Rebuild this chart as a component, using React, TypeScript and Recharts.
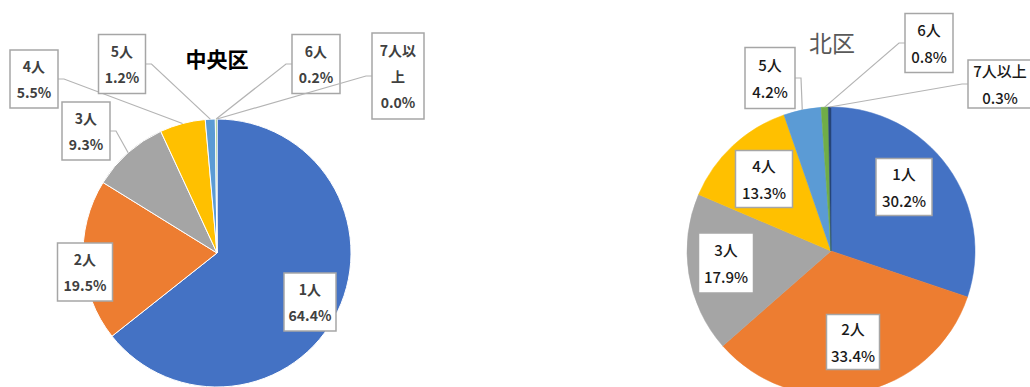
import { PieChart, Pie, Cell } from 'recharts';

// household size categories
const categories = ['1人', '2人', '3人', '4人', '5人', '6人', '7人以上'];
// share of households (%)
const chuoValues = [64.4, 19.5, 9.3, 5.5, 1.2, 0.2, 0.0];
const kitaValues = [30.2, 33.4, 17.9, 13.3, 4.2, 0.8, 0.3];

const sliceColors = ['#4472C4', '#ED7D31', '#A5A5A5', '#FFC000', '#5B9BD5', '#70AD47', '#264478'];

interface LabelBox {
  dx: number;
  dy: number;
  w: number;
  h: number;
  leader?: 'left' | 'right';
  wrapAt?: number;
}

// label box placement, relative to the pie centre
const chuoLabelLayout: LabelBox[] = [
  { dx: 93, dy: 49, w: 52, h: 58 },
  { dx: -132, dy: 19, w: 55, h: 58 },
  { dx: -131, dy: -122, w: 48, h: 58, leader: 'right' },
  { dx: -183, dy: -174, w: 48, h: 58, leader: 'right' },
  { dx: -95, dy: -189, w: 47, h: 59, leader: 'right' },
  { dx: 99, dy: -189, w: 48, h: 59, leader: 'left' },
  { dx: 181, dy: -177, w: 52, h: 86, leader: 'left', wrapAt: 3 },
];

const kitaLabelLayout: LabelBox[] = [
  { dx: 73, dy: -64, w: 56, h: 57 },
  { dx: 22, dy: 91, w: 53, h: 55 },
  { dx: -105, dy: 12, w: 55, h: 60 },
  { dx: -67, dy: -72, w: 57, h: 57 },
  { dx: -61, dy: -173, w: 50, h: 61, leader: 'right' },
  { dx: 98, dy: -208, w: 48, h: 59, leader: 'left' },
  { dx: 169, dy: -167, w: 64, h: 48, leader: 'left' },
];

const chuoData = categories.map((name, i) => ({ name, value: chuoValues[i] }));
const kitaData = categories.map((name, i) => ({ name, value: kitaValues[i] }));

const RAD = Math.PI / 180;
const FONT = '"Noto Sans CJK JP", "Noto Sans", sans-serif';

function makeLabel(layout: LabelBox[], bold: boolean, color: string, fontSize: number, gap: number) {
  return (props: any) => {
    const { cx, cy, midAngle, outerRadius, index, name, value } = props;
    const box = layout[index];
    if (!box) return null;
    const bx = cx + box.dx;
    const by = cy + box.dy;
    const nameLines = box.wrapAt ? [name.slice(0, box.wrapAt), name.slice(box.wrapAt)] : [name];
    const lines = [...nameLines, `${Number(value).toFixed(1)}%`];
    const top = by - ((lines.length - 1) * gap) / 2;

    let leader = null;
    if (box.leader) {
      const ex = cx + outerRadius * Math.cos(-midAngle * RAD);
      const ey = cy + outerRadius * Math.sin(-midAngle * RAD);
      const sx = box.leader === 'right' ? bx + box.w / 2 : bx - box.w / 2;
      const kx = box.leader === 'right' ? sx + 6 : sx - 6;
      leader = (
        <polyline
          points={`${sx},${by} ${kx},${by} ${ex},${ey}`}
          fill="none"
          stroke="#b4b4b4"
          strokeWidth={1.2}
        />
      );
    }

    return (
      <g key={`lbl-${index}`}>
        {leader}
        <rect
          x={bx - box.w / 2}
          y={by - box.h / 2}
          width={box.w}
          height={box.h}
          fill="#ffffff"
          stroke="#a6a6a6"
          strokeWidth={1.5}
        />
        {lines.map((t, i) => (
          <text
            key={i}
            x={bx}
            y={top + i * gap}
            textAnchor="middle"
            dominantBaseline="central"
            fontSize={fontSize}
            fontWeight={bold ? 700 : 500}
            fill={color}
            fontFamily={FONT}
          >
            {t}
          </text>
        ))}
      </g>
    );
  };
}

export default function App() {
  return (
    <div style={{ position: 'relative', width: 1030, height: 387, background: '#fff', overflow: 'hidden' }}>
      <style>{'body{margin:0;}'}</style>
      <PieChart width={1030} height={387} margin={{ top: 0, right: 0, bottom: 0, left: 0 }}>
        <Pie
          data={chuoData}
          dataKey="value"
          nameKey="name"
          cx={217}
          cy={253}
          outerRadius={134}
          startAngle={90}
          endAngle={-270}
          label={makeLabel(chuoLabelLayout, true, '#404040', 14, 26)}
          labelLine={false}
          isAnimationActive={false}
        >
          {chuoData.map((d, i) => (
            <Cell key={d.name} fill={sliceColors[i]} stroke="#ffffff" strokeWidth={1} />
          ))}
        </Pie>
        <Pie
          data={kitaData}
          dataKey="value"
          nameKey="name"
          cx={831}
          cy={251}
          outerRadius={144}
          startAngle={90}
          endAngle={-270}
          label={makeLabel(kitaLabelLayout, false, '#1a1a1a', 15, 27)}
          labelLine={false}
          isAnimationActive={false}
        >
          {kitaData.map((d, i) => (
            <Cell key={d.name} fill={sliceColors[i]} stroke={sliceColors[i]} strokeWidth={0.5} />
          ))}
        </Pie>
      </PieChart>
      <div
        style={{
          position: 'absolute',
          left: 167,
          top: 44,
          width: 100,
          textAlign: 'center',
          fontFamily: FONT,
          fontWeight: 700,
          fontSize: 21,
          lineHeight: '28px',
          color: '#000',
        }}
      >
        中央区
      </div>
      <div
        style={{
          position: 'absolute',
          left: 782,
          top: 27,
          width: 100,
          textAlign: 'center',
          fontFamily: FONT,
          fontWeight: 400,
          fontSize: 23,
          lineHeight: '30px',
          color: '#595959',
        }}
      >
        北区
      </div>
    </div>
  );
}
